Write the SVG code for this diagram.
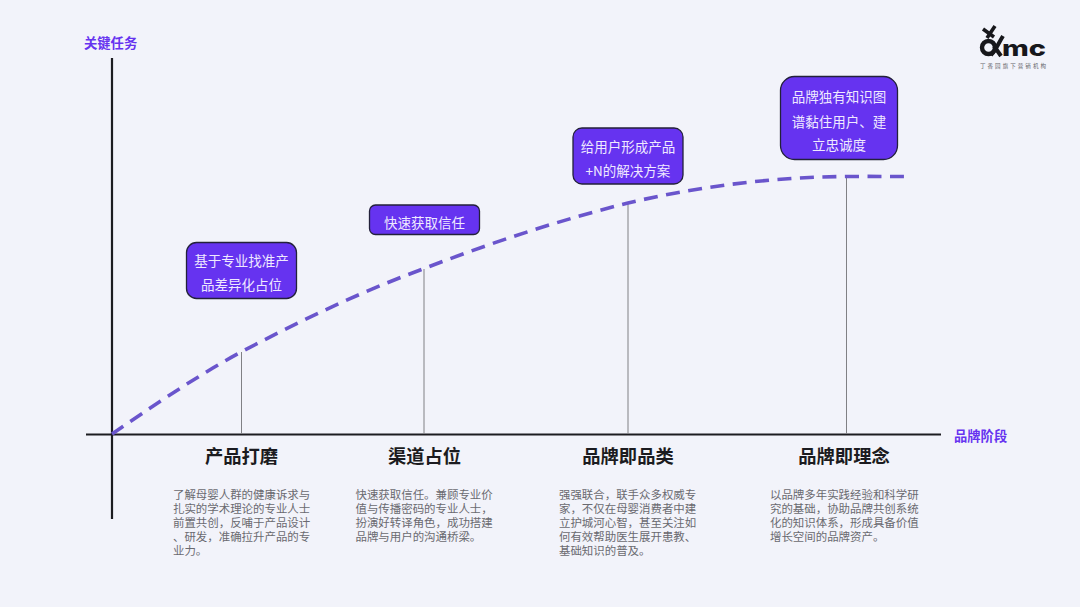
<svg xmlns="http://www.w3.org/2000/svg" width="1080" height="607" viewBox="0 0 1080 607">
<style>
text{font-family:"Noto Sans CJK SC","Noto Sans",sans-serif}
.axis{stroke:#1c1c20;fill:none}
.drop{stroke:#808084;stroke-width:1;fill:none}
.box{fill:#6633f0;stroke:#23213a;stroke-width:1.300}
.bt{fill:#efe9ff;font-size:13.500px;text-anchor:middle}
.ax{fill:#6633f0;font-size:13.300px;font-weight:700}
.h{fill:#1b1b20;font-size:18.300px;font-weight:700;text-anchor:middle}
.d{fill:#6a6a70;font-size:11.450px}
</style>
<rect width="1080" height="607" fill="#f2f3fa"/>
<g id="connectors">
<path class="axis" stroke-width="2.200" d="M112 58V519"/>
<path class="axis" stroke-width="2.200" d="M86 434.500H941"/>
<path class="drop" d="M241.500 352V434"/>
<path class="drop" d="M424 269V434"/>
<path class="drop" d="M628 203V434"/>
<path class="drop" d="M846.500 177V434"/>
<path d="M112 434C150 408 195 377 241 352C300 321 360 292 423 269C490 243 560 220 628 203C700 186 775 177 846 176.500C870 176.300 890 176.500 905 176.500" fill="none" stroke="#6a55cc" stroke-width="3.600" stroke-dasharray="14 8.500"/>
</g>
<g id="y-axis-label"><text class="ax" x="84" y="47.500">关键任务</text></g>
<g id="x-axis-label"><text class="ax" x="954" y="441">品牌阶段</text></g>
<g id="logo">
<path d="M983 29L994 37M995 26L987 38" stroke="#17171b" stroke-width="3.600" fill="none"/>
<circle cx="988.500" cy="47.500" r="6.500" fill="none" stroke="#17171b" stroke-width="4.400"/>
<path d="M1003 36C998 44 996 50 991 55M994 46L1001 56" fill="none" stroke="#17171b" stroke-width="4"/>
<text x="1002" y="56" font-size="22" font-weight="800" fill="#17171b" style="font-family:Inter,'Noto Sans',sans-serif" textLength="44" lengthAdjust="spacingAndGlyphs">mc</text>
<text x="980" y="68" font-size="5.500" fill="#66666b" textLength="66" lengthAdjust="spacing">丁香园旗下营销机构</text>
</g>
<g id="task-1">
<rect class="box" x="186.500" y="242.500" width="110" height="56" rx="10"/>
<text class="bt" x="241.500" y="266">基于专业找准产</text>
<text class="bt" x="241.500" y="290">品差异化占位</text>
</g>
<g id="task-2">
<rect class="box" x="369.500" y="205" width="110" height="29.500" rx="6"/>
<text class="bt" x="424.500" y="228">快速获取信任</text>
</g>
<g id="task-3">
<rect class="box" x="573" y="128" width="110" height="56" rx="9"/>
<text class="bt" x="628" y="152">给用户形成产品</text>
<text class="bt" x="628" y="176">+N的解决方案</text>
</g>
<g id="task-4">
<rect class="box" x="780.500" y="76.500" width="117" height="83" rx="14"/>
<text class="bt" x="839" y="102">品牌独有知识图</text>
<text class="bt" x="839" y="127">谱黏住用户、建</text>
<text class="bt" x="839" y="150">立忠诚度</text>
</g>
<g id="stage-1">
<text class="h" x="241.500" y="463">产品打磨</text>
<text class="d" x="173" y="499">了解母婴人群的健康诉求与</text>
<text class="d" x="173" y="513">扎实的学术理论的专业人士</text>
<text class="d" x="173" y="527">前置共创，反哺于产品设计</text>
<text class="d" x="173" y="541">、研发，准确拉升产品的专</text>
<text class="d" x="173" y="555">业力。</text>
</g>
<g id="stage-2">
<text class="h" x="424.500" y="463">渠道占位</text>
<text class="d" x="355.500" y="499">快速获取信任。兼顾专业价</text>
<text class="d" x="355.500" y="513">值与传播密码的专业人士，</text>
<text class="d" x="355.500" y="527">扮演好转译角色，成功搭建</text>
<text class="d" x="355.500" y="541">品牌与用户的沟通桥梁。</text>
</g>
<g id="stage-3">
<text class="h" x="628" y="463">品牌即品类</text>
<text class="d" x="559" y="499">强强联合，联手众多权威专</text>
<text class="d" x="559" y="513">家，不仅在母婴消费者中建</text>
<text class="d" x="559" y="527">立护城河心智，甚至关注如</text>
<text class="d" x="559" y="541">何有效帮助医生展开患教、</text>
<text class="d" x="559" y="555">基础知识的普及。</text>
</g>
<g id="stage-4">
<text class="h" x="844" y="463">品牌即理念</text>
<text class="d" x="770" y="499">以品牌多年实践经验和科学研</text>
<text class="d" x="770" y="513">究的基础，协助品牌共创系统</text>
<text class="d" x="770" y="527">化的知识体系，形成具备价值</text>
<text class="d" x="770" y="541">增长空间的品牌资产。</text>
</g>
</svg>
